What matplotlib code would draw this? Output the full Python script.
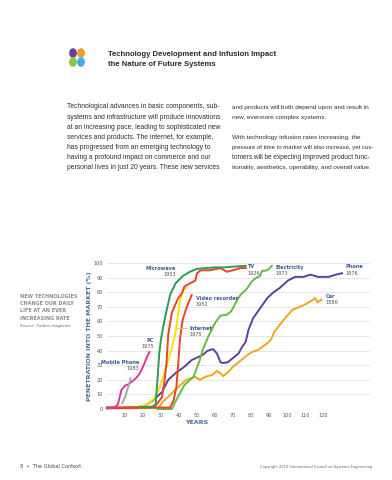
import matplotlib
matplotlib.use("Agg")
import matplotlib.pyplot as plt
from matplotlib.patches import Circle

W, H = 392, 480

# --- data (years since invention, % penetration) ---
pc_x = [0, 4, 6, 7, 8, 10, 12, 14, 16, 18, 20, 22, 23.5]
pc_y = [0.5, 1, 3, 8, 13, 16, 17, 19, 21, 24, 29, 35, 39]

mobile_x = [8.5, 10, 11, 12, 13]
mobile_y = [4, 8, 12, 16, 21]

microwave_x = [18, 25, 27, 28, 29, 30, 31, 33, 35, 38, 42, 46, 50, 55, 60, 65, 70, 77]
microwave_y = [1, 1.5, 3, 20, 38, 48, 55, 67, 78, 86, 91, 94, 96, 96.5, 97, 97, 97.5, 98]

tv_x = [0, 15, 22, 26.5, 30.5, 32, 33, 34, 36, 39.5, 41.5, 43, 46, 49, 50, 52, 57, 63, 66.5, 70, 74, 77]
tv_y = [1, 1, 1.5, 1.5, 8, 20, 31, 51, 66, 76, 79, 84, 86, 88, 93, 95, 95, 96.5, 94, 95, 96.5, 96.5]

vcr_x = [0, 20, 30, 35, 37, 38.5, 39.5, 40.5, 42, 44, 47]
vcr_y = [1, 1, 1, 1, 6, 15, 30, 48, 61, 69, 78]

internet_x = [15, 22, 26, 29, 33, 36, 38, 40.5, 42, 44.5]
internet_y = [1, 3, 7, 14, 29, 42, 52, 74, 81, 83]

electricity_x = [28, 36, 39, 43, 48, 51.5, 53, 56, 60, 63, 66.5, 69, 72, 74, 77, 78,
                 80.5, 83, 85, 86, 89, 91.5]
electricity_y = [0, 0, 7.5, 16.5, 22, 33.5, 40, 49, 59, 64, 64.5, 67, 74, 78, 81.5, 83,
                 87.5, 90, 91, 94.5, 95, 98]

phone_x = [0, 15, 20, 22, 25.5, 30.5, 34, 38, 43, 47, 50.5, 53, 56, 59, 61, 63, 64.5, 67,
           70, 73, 75, 77, 78.5, 81, 85, 89, 92, 96, 100.5, 104.5, 109, 113, 117, 123, 127, 130.5]
phone_y = [0.5, 1, 2, 3, 6, 11.5, 20, 24.5, 29, 33.5, 35.5, 37, 40, 41, 38, 32, 31.5, 32,
           35, 38, 42.5, 46, 54, 62, 69, 76, 79.5, 83, 88, 90.5, 90.5, 92, 90.5, 90.5, 92, 93]

car_x = [0, 20, 28.5, 31, 35, 39, 44, 49, 51.5, 55.5, 58, 61, 63, 64.5, 67, 70, 74, 78,
         80.5, 84, 89, 91, 93, 98, 103, 109, 114, 115.5, 117, 119]
car_y = [0.5, 0.5, 0.5, 5, 9.5, 14.5, 20, 22, 20, 22.5, 23, 26, 24.5, 22.5, 25, 29, 33, 37,
         39, 40.5, 45, 47.5, 53, 61, 68, 71, 74.5, 76, 73, 75]

y_ticks = [0, 10, 20, 30, 40, 50, 60, 70, 80, 90, 100]
x_ticks = [10, 20, 30, 40, 50, 60, 70, 80, 90, 100, 110, 120]

# labels: (name, year, x, y in px, alignment)
curve_labels = [
    ("Microwave", "1953", 176, 268, "right"),
    ("Video recorder", "1952", 196, 298, "left"),
    ("Internet", "1975", 189, 328, "left"),
    ("PC", "1975", 154, 340, "right"),
    ("Mobile Phone", "1983", 139, 362, "right"),
    ("TV", "1926", 248, 267, "left"),
    ("Electricity", "1873", 276, 267, "left"),
    ("Phone", "1876", 346, 267, "left"),
    ("Car", "1886", 326, 296, "left"),
]

left_col = [
    "Technological advances in basic components, sub-",
    "systems and infrastructure will produce innovations",
    "at an increasing pace, leading to sophisticated new",
    "services and products. The internet, for example,",
    "has progressed from an emerging technology to",
    "having a profound impact on commerce and our",
    "personal lives in just 20 years. These new services",
]
right_col = [
    "and products will both depend upon and result in",
    "new, evermore complex systems.",
    "",
    "With technology infusion rates increasing, the",
    "pressure of time to market will also increase, yet cus-",
    "tomers will be expecting improved product func-",
    "tionality, aesthetics, operability, and overall value.",
]
right_sizes = [4.6, 4.6, 4.6, 4.6, 4.3, 4.7, 4.6]

LABEL_BLUE = "#3a5a98"


def fx(px):
    return px / W


def fy(py):
    return 1 - py / H


fig = plt.figure(figsize=(W / 100, H / 100), dpi=100)
fig.patch.set_facecolor("white")

# header icon (four dots)
for (cx, cy), col in zip([(73, 53), (81, 53), (73, 62), (81, 62)],
                         ["#6b3fa0", "#f39a2b", "#8cc63f", "#3fb0e6"]):
    fig.patches.append(Circle((fx(cx), fy(cy)), 3.9 / W, transform=fig.transFigure,
                              facecolor=col, edgecolor="none"))

fig.text(fx(108), fy(54), "Technology Development and Infusion Impact",
         fontsize=5.6, fontweight="bold", family="Liberation Sans", color="#2a2a2a", va="center")
fig.text(fx(108), fy(64), "the Nature of Future Systems",
         fontsize=5.6, fontweight="bold", family="Liberation Sans", color="#2a2a2a", va="center")

for i, line in enumerate(left_col):
    fig.text(fx(67), fy(107 + i * 10.1), line, fontsize=4.85, family="Liberation Sans",
             color="#2e2e2e", va="center")
for i, line in enumerate(right_col):
    fig.text(fx(232), fy(107 + i * 10.1), line, fontsize=right_sizes[i], family="Liberation Sans",
             color="#2e2e2e", va="center")

# side note
for i, line in enumerate(["NEW TECHNOLOGIES", "CHANGE OUR DAILY", "LIFE AT AN EVER", "INCREASING RATE"]):
    fig.text(fx(20), fy(296 + i * 7.5), line, fontsize=3.5, color="#8a8a8a",
             fontweight="bold", va="center")
fig.text(fx(20), fy(326), "Source: Forbes magazine", fontsize=2.9, color="#666666",
         style="italic", va="center")

# main chart
ax = fig.add_axes([fx(107), fy(409), (370 - 107) / W, (409 - 263) / H])
ax.set_xlim(0, 146)
ax.set_ylim(0, 100)
for s in ax.spines.values():
    s.set_visible(False)
ax.set_yticks(y_ticks)
ax.set_xticks(x_ticks)
ax.grid(axis="y", color="#e3e3e3", linewidth=0.6)
ax.set_axisbelow(True)
ax.tick_params(length=0, labelsize=3.6, labelcolor="#555555", pad=3)

lw = 1.4
ax.plot(car_x, car_y, color="#f3a41c", lw=lw, clip_on=False)
ax.plot(phone_x, phone_y, color="#5e3fa0", lw=lw, clip_on=False)
ax.plot(electricity_x, electricity_y, color="#66bb3c", lw=lw, clip_on=False)
ax.plot(internet_x, internet_y, color="#f2e500", lw=lw, clip_on=False)
ax.plot(vcr_x, vcr_y, color="#e8432b", lw=lw, clip_on=False)
ax.plot(tv_x, tv_y, color="#e8432b", lw=lw, clip_on=False)
ax.plot(microwave_x, microwave_y, color="#2f9a55", lw=lw, clip_on=False)
ax.plot(pc_x, pc_y, color="#e0359c", lw=lw, clip_on=False)
ax.plot(mobile_x, mobile_y, color="#a8a8a8", lw=lw, clip_on=False)

# leader for Internet label
fig.add_artist(plt.Line2D([fx(177), fx(187)], [fy(327.5), fy(327.5)], color="#d8cc30", lw=0.6))

for name, year, px, py, ha in curve_labels:
    fig.text(fx(px), fy(py), name, fontsize=3.6, color=LABEL_BLUE, fontweight="bold",
             ha=ha, va="center")
    fig.text(fx(px), fy(py + 6.5), year, fontsize=3.6, color="#555555", ha=ha, va="center")

fig.text(fx(90), fy(336), "PENETRATION INTO THE MARKET (%)", rotation=90, fontsize=4.5,
         fontweight="bold", color="#4a6a9e", ha="center", va="center")
fig.text(fx(197), fy(423), "YEARS", fontsize=4.5, fontweight="bold", color="#4a6a9e",
         ha="center", va="center")

# footer
fig.text(fx(20), fy(467), "8  \u2022  The Global Context", fontsize=3.6, color="#444444", va="center")
fig.text(fx(372), fy(467), "Copyright 2010 International Council on Systems Engineering",
         fontsize=2.6, color="#666666", ha="right", va="center")

fig.savefig("out.png", dpi=100)
